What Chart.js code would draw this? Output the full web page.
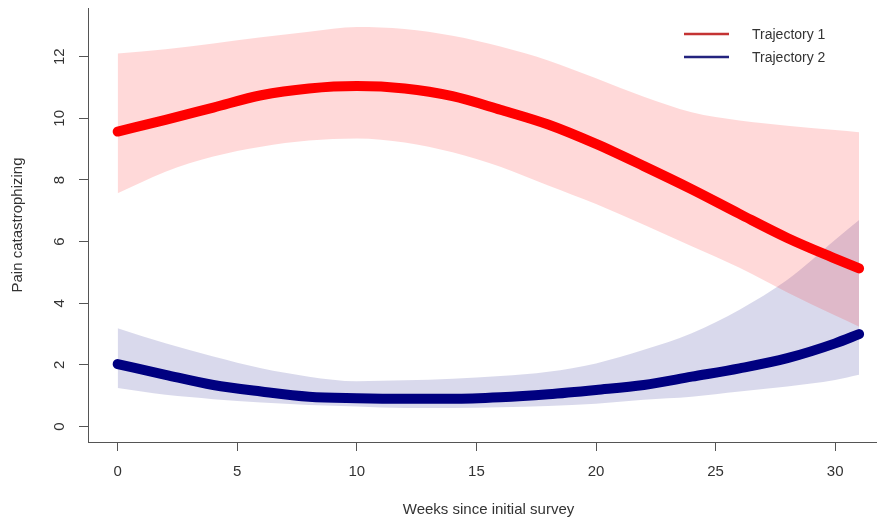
<!DOCTYPE html>
<html lang="en">
<head>
    <meta charset="UTF-8">
    <title>Pain catastrophizing trajectories</title>
    <script src="https://cdn.jsdelivr.net/npm/chart.js"></script>
    <style>
        body {
            margin: 0;
            padding: 0;
            background: #ffffff;
            overflow: hidden;
        }

        .wrap {
            width: 877px;
            height: 523px;
            overflow: hidden;
        }
    </style>
</head>
<body>
    <div class="wrap">
        <canvas id="trajChart" width="889" height="523"></canvas>
    </div>

    <script>
        const weeks = [0, 2, 4, 6, 8, 10, 12, 14, 16, 18, 20, 22, 24, 26, 28, 30, 31];

        // Trajectory 1 (high group)
        const traj1Mean  = [9.57, 9.95, 10.35, 10.75, 10.97, 11.05, 10.97, 10.72, 10.28, 9.80, 9.17, 8.45, 7.70, 6.90, 6.12, 5.45, 5.13];
        const traj1Upper = [12.10, 12.24, 12.43, 12.63, 12.81, 12.96, 12.90, 12.68, 12.33, 11.88, 11.30, 10.70, 10.20, 9.93, 9.76, 9.62, 9.55];
        const traj1Lower = [7.57, 8.27, 8.76, 9.08, 9.28, 9.35, 9.22, 8.90, 8.43, 7.82, 7.22, 6.55, 5.85, 5.15, 4.35, 3.60, 3.24];

        // Trajectory 2 (low group)
        const traj2Mean  = [2.03, 1.68, 1.35, 1.14, 0.97, 0.92, 0.90, 0.90, 0.95, 1.05, 1.19, 1.35, 1.62, 1.89, 2.22, 2.70, 3.00];
        const traj2Upper = [3.19, 2.70, 2.27, 1.89, 1.62, 1.47, 1.50, 1.55, 1.64, 1.78, 2.05, 2.49, 3.03, 3.79, 4.76, 6.06, 6.70];
        const traj2Lower = [1.25, 1.03, 0.89, 0.78, 0.70, 0.65, 0.60, 0.60, 0.63, 0.67, 0.74, 0.87, 0.97, 1.14, 1.30, 1.51, 1.68];

        const xTicks = [0, 5, 10, 15, 20, 25, 30];
        const yTicks = [0, 2, 4, 6, 8, 10, 12];

        const legendItems = [
            { label: "Trajectory 1", color: "#c43333" },
            { label: "Trajectory 2", color: "#23237e" }
        ];

        const FONT = "'Liberation Sans', Arial, sans-serif";
        const TEXT = "#333333";
        const AXIS = "#555555";

        function pts(ys) {
            return weeks.map((w, i) => ({ x: w, y: ys[i] }));
        }

        // no extra room for end labels, the plot box is fixed like in R
        function noPad(scale) {
            scale.paddingTop = 0;
            scale.paddingBottom = 0;
            scale.paddingLeft = 0;
            scale.paddingRight = 0;
        }

        // legend sits inside the plot, top right, like the R original
        const innerLegend = {
            id: "innerLegend",
            afterDraw(chart) {
                const ctx = chart.ctx;
                ctx.save();
                ctx.font = "14px " + FONT;
                ctx.textBaseline = "middle";
                legendItems.forEach((item, i) => {
                    const y = 34 + i * 23;
                    ctx.strokeStyle = item.color;
                    ctx.lineWidth = 2.5;
                    ctx.beginPath();
                    ctx.moveTo(684, y);
                    ctx.lineTo(729, y);
                    ctx.stroke();
                    ctx.fillStyle = TEXT;
                    ctx.fillText(item.label, 752, y + 1);
                });
                ctx.restore();
            }
        };

        const ctx = document.getElementById("trajChart").getContext("2d");
        new Chart(ctx, {
            type: "line",
            data: {
                datasets: [
                    {
                        label: "Trajectory 1",
                        data: pts(traj1Mean),
                        borderColor: "#ff0000",
                        borderWidth: 10,
                        borderCapStyle: "round",
                        pointRadius: 0,
                        cubicInterpolationMode: "monotone",
                        fill: false
                    },
                    {
                        label: "Trajectory 2",
                        data: pts(traj2Mean),
                        borderColor: "#000080",
                        borderWidth: 10,
                        borderCapStyle: "round",
                        pointRadius: 0,
                        cubicInterpolationMode: "monotone",
                        fill: false
                    },
                    {
                        label: "T1 upper",
                        data: pts(traj1Upper),
                        borderWidth: 0,
                        pointRadius: 0,
                        cubicInterpolationMode: "monotone",
                        backgroundColor: "rgba(255, 0, 0, 0.15)",
                        fill: "+1"
                    },
                    {
                        label: "T1 lower",
                        data: pts(traj1Lower),
                        borderWidth: 0,
                        pointRadius: 0,
                        cubicInterpolationMode: "monotone",
                        fill: false
                    },
                    {
                        label: "T2 upper",
                        data: pts(traj2Upper),
                        borderWidth: 0,
                        pointRadius: 0,
                        cubicInterpolationMode: "monotone",
                        backgroundColor: "rgba(0, 0, 128, 0.15)",
                        fill: "+1"
                    },
                    {
                        label: "T2 lower",
                        data: pts(traj2Lower),
                        borderWidth: 0,
                        pointRadius: 0,
                        cubicInterpolationMode: "monotone",
                        fill: false
                    }
                ]
            },
            options: {
                responsive: false,
                animation: false,
                devicePixelRatio: 1,
                layout: { padding: { top: 8, right: 0, left: 0, bottom: 0 } },
                plugins: {
                    legend: { display: false },
                    tooltip: { enabled: false }
                },
                scales: {
                    x: {
                        type: "linear",
                        min: -1.24,
                        max: 32.25,
                        afterBuildTicks: (scale) => {
                            scale.ticks = xTicks.map(v => ({ value: v }));
                        },
                        afterFit: (scale) => {
                            scale.height = 81;
                            noPad(scale);
                        },
                        border: { display: true, color: AXIS, width: 1 },
                        grid: {
                            drawOnChartArea: false,
                            drawTicks: true,
                            tickLength: 9,
                            color: AXIS
                        },
                        ticks: {
                            color: TEXT,
                            font: { family: FONT, size: 15 },
                            padding: 12,
                            maxRotation: 0,
                            autoSkip: false
                        },
                        title: {
                            display: true,
                            text: "Weeks since initial survey",
                            color: TEXT,
                            font: { family: FONT, size: 15 },
                            padding: { top: 0, bottom: 4 }
                        }
                    },
                    y: {
                        type: "linear",
                        min: -0.5,
                        max: 13.58,
                        afterBuildTicks: (scale) => {
                            scale.ticks = yTicks.map(v => ({ value: v }));
                        },
                        afterFit: (scale) => {
                            scale.width = 88;
                            noPad(scale);
                        },
                        border: { display: true, color: AXIS, width: 1 },
                        grid: {
                            drawOnChartArea: false,
                            drawTicks: true,
                            tickLength: 9,
                            color: AXIS
                        },
                        ticks: {
                            color: TEXT,
                            font: { family: FONT, size: 15 },
                            minRotation: 90,
                            maxRotation: 90,
                            crossAlign: "center",
                            padding: 11,
                            autoSkip: false
                        },
                        title: {
                            display: true,
                            text: "Pain catastrophizing",
                            color: TEXT,
                            font: { family: FONT, size: 15 },
                            padding: { top: 9, bottom: 0 }
                        }
                    }
                }
            },
            plugins: [innerLegend]
        });
    </script>
</body>
</html>
